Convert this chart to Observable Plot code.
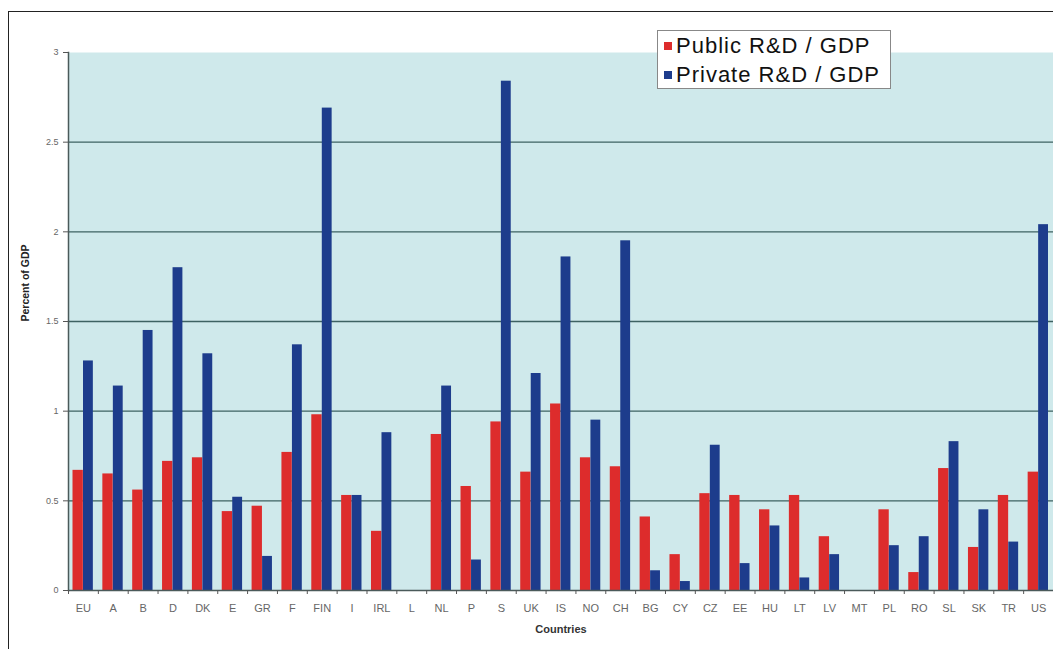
<!DOCTYPE html>
<html>
<head>
<meta charset="utf-8">
<script src="https://cdn.jsdelivr.net/npm/d3@7"></script>
<script src="https://cdn.jsdelivr.net/npm/@observablehq/plot@0.6"></script>
<style>
  html, body { margin: 0; padding: 0; background: #fff; }
  #wrap { position: relative; width: 1053px; height: 649px; overflow: hidden; font-family: "Liberation Sans", Arial, sans-serif; }
  #border { position: absolute; left: 8px; top: 11px; width: 1100px; height: 700px; border-left: 1px solid #222; border-top: 1px solid #222; }
  #chart { position: absolute; left: 0; top: 0; }
  #legend { position: absolute; left: 657px; top: 30px; width: 232px; height: 57px; background: #fff; border: 1px solid #888; }
  .row { height: 29px; line-height: 29px; font-size: 22px; letter-spacing: 1px; color: #111; white-space: nowrap; }
  .sw { display: inline-block; width: 8px; height: 8px; margin: 0 4px 0 6px; vertical-align: 3px; }
</style>
</head>
<body>
<div id="wrap">
  <div id="border"></div>
  <div id="chart"></div>
  <div id="legend"></div>
</div>
<script>
const countries = ["EU","A","B","D","DK","E","GR","F","FIN","I","IRL","L","NL","P","S","UK","IS","NO","CH","BG","CY","CZ","EE","HU","LT","LV","MT","PL","RO","SL","SK","TR","US"];
const publicRD  = [0.67,0.65,0.56,0.72,0.74,0.44,0.47,0.77,0.98,0.53,0.33,0,0.87,0.58,0.94,0.66,1.04,0.74,0.69,0.41,0.20,0.54,0.53,0.45,0.53,0.30,0,0.45,0.10,0.68,0.24,0.53,0.66];
const privateRD = [1.28,1.14,1.45,1.80,1.32,0.52,0.19,1.37,2.69,0.53,0.88,0,1.14,0.17,2.84,1.21,1.86,0.95,1.95,0.11,0.05,0.81,0.15,0.36,0.07,0.20,0,0.25,0.30,0.83,0.45,0.27,2.04];
const seriesNames = ["Public R&D / GDP", "Private R&D / GDP"];
const seriesColors = ["#dd2c2c", "#1d3c8c"];
const yTicks = [0, 0.5, 1, 1.5, 2, 2.5, 3];
const gridTicks = [0.5, 1, 1.5, 2, 2.5];

const rows = countries.map((c, i) => ({country: c, pub: publicRD[i], priv: privateRD[i]}));

const chart = Plot.plot({
  width: 1053,
  height: 649,
  marginTop: 52,
  marginBottom: 59,
  marginLeft: 68,
  marginRight: 0,
  style: {background: "transparent", fontFamily: "Liberation Sans, Arial, sans-serif"},
  x: {domain: countries, padding: 0, round: false},
  y: {domain: [0, 3]},
  marks: [
    Plot.frame({fill: "#cfe9eb", stroke: null}),
    Plot.ruleY(gridTicks, {stroke: "#3e6262", strokeWidth: 1.3}),
    Plot.barY(rows, {x: "country", y: "pub", fill: seriesColors[0], insetLeft: 4.5, insetRight: 15}),
    Plot.barY(rows, {x: "country", y: "priv", fill: seriesColors[1], insetLeft: 15, insetRight: 5}),
    Plot.ruleY([0], {stroke: "#4a5a5a", strokeWidth: 1.3}),
    Plot.frame({anchor: "left", stroke: "#4a5a5a", strokeWidth: 1.5}),
    Plot.axisY({ticks: yTicks, tickFormat: d => String(d), tickSize: 5, tickPadding: 5, fontSize: 9, color: "#666", stroke: "#555", label: null}),
    Plot.axisX({tickSize: 4, tickFormat: () => "", dx: -985 / 66, stroke: "#555", label: null}),
    Plot.axisX({tickSize: 0, tickPadding: 14, fontSize: 11, fill: "#666", label: null}),
    Plot.text(["Percent of GDP"], {frameAnchor: "left", rotate: -90, dx: -43, fontSize: 10.5, fontWeight: "bold", letterSpacing: 0.6, fill: "#222"}),
    Plot.text(["Countries"], {frameAnchor: "bottom", dy: 42, fontSize: 11, fontWeight: "bold", fill: "#333", letterSpacing: 0.8})
  ]
});
document.getElementById("chart").appendChild(chart);

const legend = document.getElementById("legend");
seriesNames.forEach((name, i) => {
  const r = document.createElement("div");
  r.className = "row";
  const sw = document.createElement("span");
  sw.className = "sw";
  sw.style.background = seriesColors[i];
  r.appendChild(sw);
  r.appendChild(document.createTextNode(name));
  legend.appendChild(r);
});
</script>
</body>
</html>
